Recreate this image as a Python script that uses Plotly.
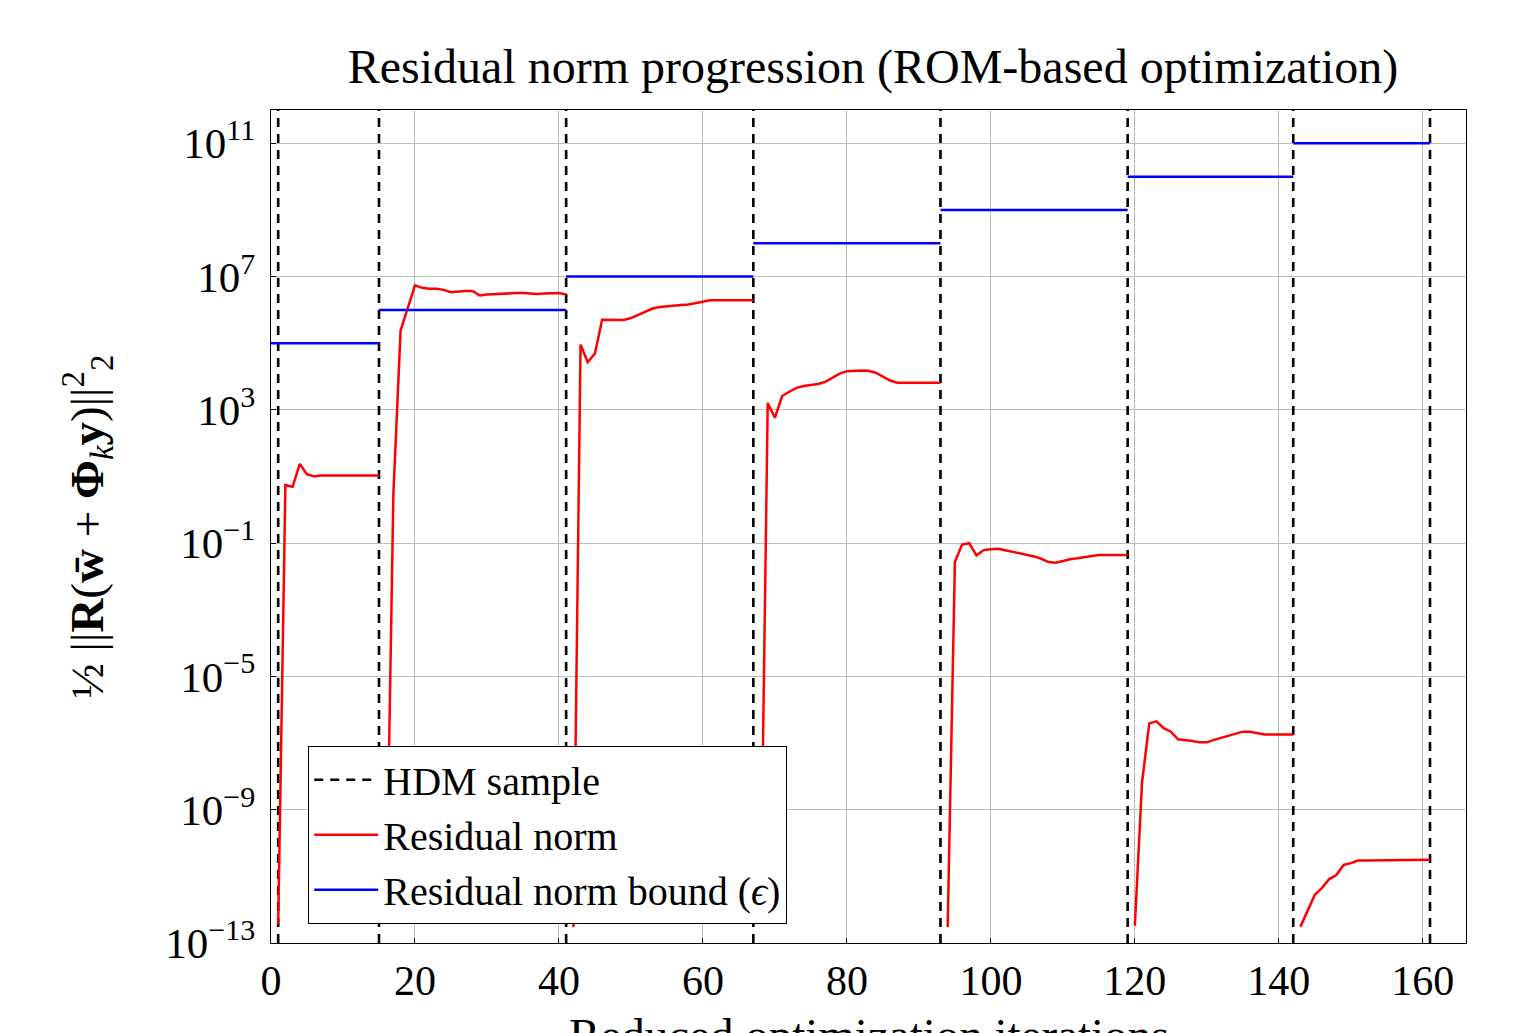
import plotly.graph_objects as go

# ---------------- data ----------------
hdm_samples = [1, 15, 41, 67, 93, 119, 142, 161]

bound_starts = [0, 15, 41, 67, 93, 119, 142]
bound_ends = [15, 41, 67, 93, 119, 142, 161]
bound_values = [1e5, 1e6, 1e7, 1e8, 1e9, 1e10, 1e11]

seg_starts = [1, 16, 42, 68, 94, 120, 143]
seg1 = [3.7e-13, 5.5, 4.9, 24, 11.5, 10.2, 10.7, 10.7, 10.7, 10.7, 10.7, 10.7, 10.7, 10.7, 10.7]
seg2 = [5e-13, 3.0, 2.4e5, 1.1e6, 5.5e6, 4.6e6, 4.3e6, 4.3e6, 4.0e6, 3.4e6, 3.6e6, 3.7e6, 3.7e6,
        2.7e6, 2.9e6, 3.0e6, 3.0e6, 3.1e6, 3.2e6, 3.2e6, 3.1e6, 3.0e6, 3.1e6, 3.2e6, 3.2e6, 2.9e6]
seg3 = [3e-13, 9.1e4, 2.7e4, 4.9e4, 5.1e5, 5.0e5, 4.9e5, 5.0e5, 5.7e5, 7.2e5, 9.1e5, 1.1e6, 1.23e6,
        1.3e6, 1.35e6, 1.4e6, 1.45e6, 1.6e6, 1.8e6, 1.95e6, 1.95e6, 1.95e6, 1.95e6, 1.95e6, 1.95e6, 1.95e6]
seg4 = [4e-13, 1.6e3, 5.8e2, 2.6e3, 3.5e3, 4.6e3, 5.2e3, 5.5e3, 6.0e3, 6.9e3, 9.0e3, 1.23e4, 1.45e4,
        1.5e4, 1.52e4, 1.5e4, 1.3e4, 1.0e4, 7.6e3, 6.5e3, 6.5e3, 6.5e3, 6.5e3, 6.5e3, 6.5e3, 6.5e3]
seg5 = [3e-13, 0.027, 0.091, 0.10, 0.043, 0.062, 0.066, 0.068, 0.061, 0.055, 0.050, 0.046, 0.040,
        0.034, 0.027, 0.026, 0.030, 0.033, 0.035, 0.038, 0.041, 0.044, 0.044, 0.044, 0.044, 0.044]
seg6 = [3.3e-13, 6.6e-9, 3.9e-7, 4.5e-7, 2.8e-7, 2.2e-7, 1.3e-7, 1.25e-7, 1.15e-7, 1.05e-7, 1.05e-7,
        1.25e-7, 1.45e-7, 1.7e-7, 1.95e-7, 2.2e-7, 2.2e-7, 2.0e-7, 1.8e-7, 1.8e-7, 1.8e-7, 1.8e-7, 1.8e-7]
seg7 = [3.1e-13, 9.3e-13, 2.8e-12, 4.5e-12, 8.3e-12, 1.1e-11, 2.2e-11, 2.5e-11, 3.0e-11, 3.0e-11,
        3.0e-11, 3.0e-11, 3.0e-11, 3.05e-11, 3.1e-11, 3.15e-11, 3.15e-11, 3.15e-11, 3.15e-11]
residual_segments = [seg1, seg2, seg3, seg4, seg5, seg6, seg7]

y_tick_vals = [1e-13, 1e-9, 1e-5, 1e-1, 1e3, 1e7, 1e11]
y_tick_text = ["10<sup>\u221213</sup>", "10<sup>\u22129</sup>", "10<sup>\u22125</sup>",
               "10<sup>\u22121</sup>", "10<sup>3</sup>", "10<sup>7</sup>", "10<sup>11</sup>"]
x_tick_vals = [0, 20, 40, 60, 80, 100, 120, 140, 160]

Y_LO, Y_HI = 1e-13, 1e12

# ---------------- build traces ----------------
hx, hy = [], []
for s in hdm_samples:
    hx += [s, s, None]
    hy += [Y_LO, Y_HI, None]

bx, by = [], []
for a, b, v in zip(bound_starts, bound_ends, bound_values):
    bx += [a, b, None]
    by += [v, v, None]

rx, ry = [], []
for st, seg in zip(seg_starts, residual_segments):
    rx += list(range(st, st + len(seg))) + [None]
    ry += seg + [None]

FONT = "Liberation Serif"

fig = go.Figure()
fig.add_trace(go.Scatter(x=hx, y=hy, mode="lines", name="HDM sample",
                         line=dict(color="black", width=2.6, dash="9px,7px")))
fig.add_trace(go.Scatter(x=rx, y=ry, mode="lines", name="Residual norm",
                         line=dict(color="#ff0000", width=2.5)))
fig.add_trace(go.Scatter(x=bx, y=by, mode="lines", name="Residual norm bound (<i>\u03f5</i>)",
                         line=dict(color="#0000ff", width=2.5)))

fig.update_layout(
    width=1520, height=1033,
    margin=dict(l=271, r=54, t=110, b=90),
    paper_bgcolor="white", plot_bgcolor="white",
    font=dict(family=FONT, size=42, color="black"),
    title=dict(text="Residual norm progression (ROM-based optimization)",
               x=873 / 1520, xanchor="center", xref="container",
               y=1 - 66 / 1033, yanchor="middle", yref="container",
               font=dict(size=48)),
    showlegend=True,
    legend=dict(x=0.031, y=0.2365, xanchor="left", yanchor="top",
                bgcolor="white", bordercolor="black", borderwidth=1.2,
                font=dict(size=40), itemwidth=64, tracegroupgap=0,
                entrywidth=540, entrywidthmode="pixels"),
    xaxis=dict(range=[0, 166], tickvals=x_tick_vals, showgrid=True,
               gridcolor="#bdbdbd", gridwidth=1, zeroline=False,
               showline=True, linecolor="black", linewidth=1.2, mirror=True,
               ticks="inside", ticklen=5, tickcolor="black",
               tickfont=dict(size=42), automargin=False),
    yaxis=dict(type="log", range=[-13, 12], tickvals=y_tick_vals, ticktext=y_tick_text,
               showgrid=True, gridcolor="#bdbdbd", gridwidth=1, zeroline=False,
               showline=True, linecolor="black", linewidth=1.2, mirror=True,
               ticks="inside", ticklen=5, tickcolor="black",
               tickfont=dict(size=43), automargin=False, ticklabelstandoff=6,
               title=dict(text="\u00bd ||<b>R</b>(<b>w\u0304</b> + <b>\u03a6</b><sub><i>k</i></sub><b>y</b>)||<sup>2</sup><sub>2</sub>",
                          standoff=46, font=dict(size=47))),
    annotations=[dict(text="Reduced optimization iterations", xref="paper", yref="paper",
                      x=0.5, y=0, xanchor="center", yanchor="top", yshift=-64,
                      showarrow=False, font=dict(size=47))],
)

fig.write_html("out.html")
